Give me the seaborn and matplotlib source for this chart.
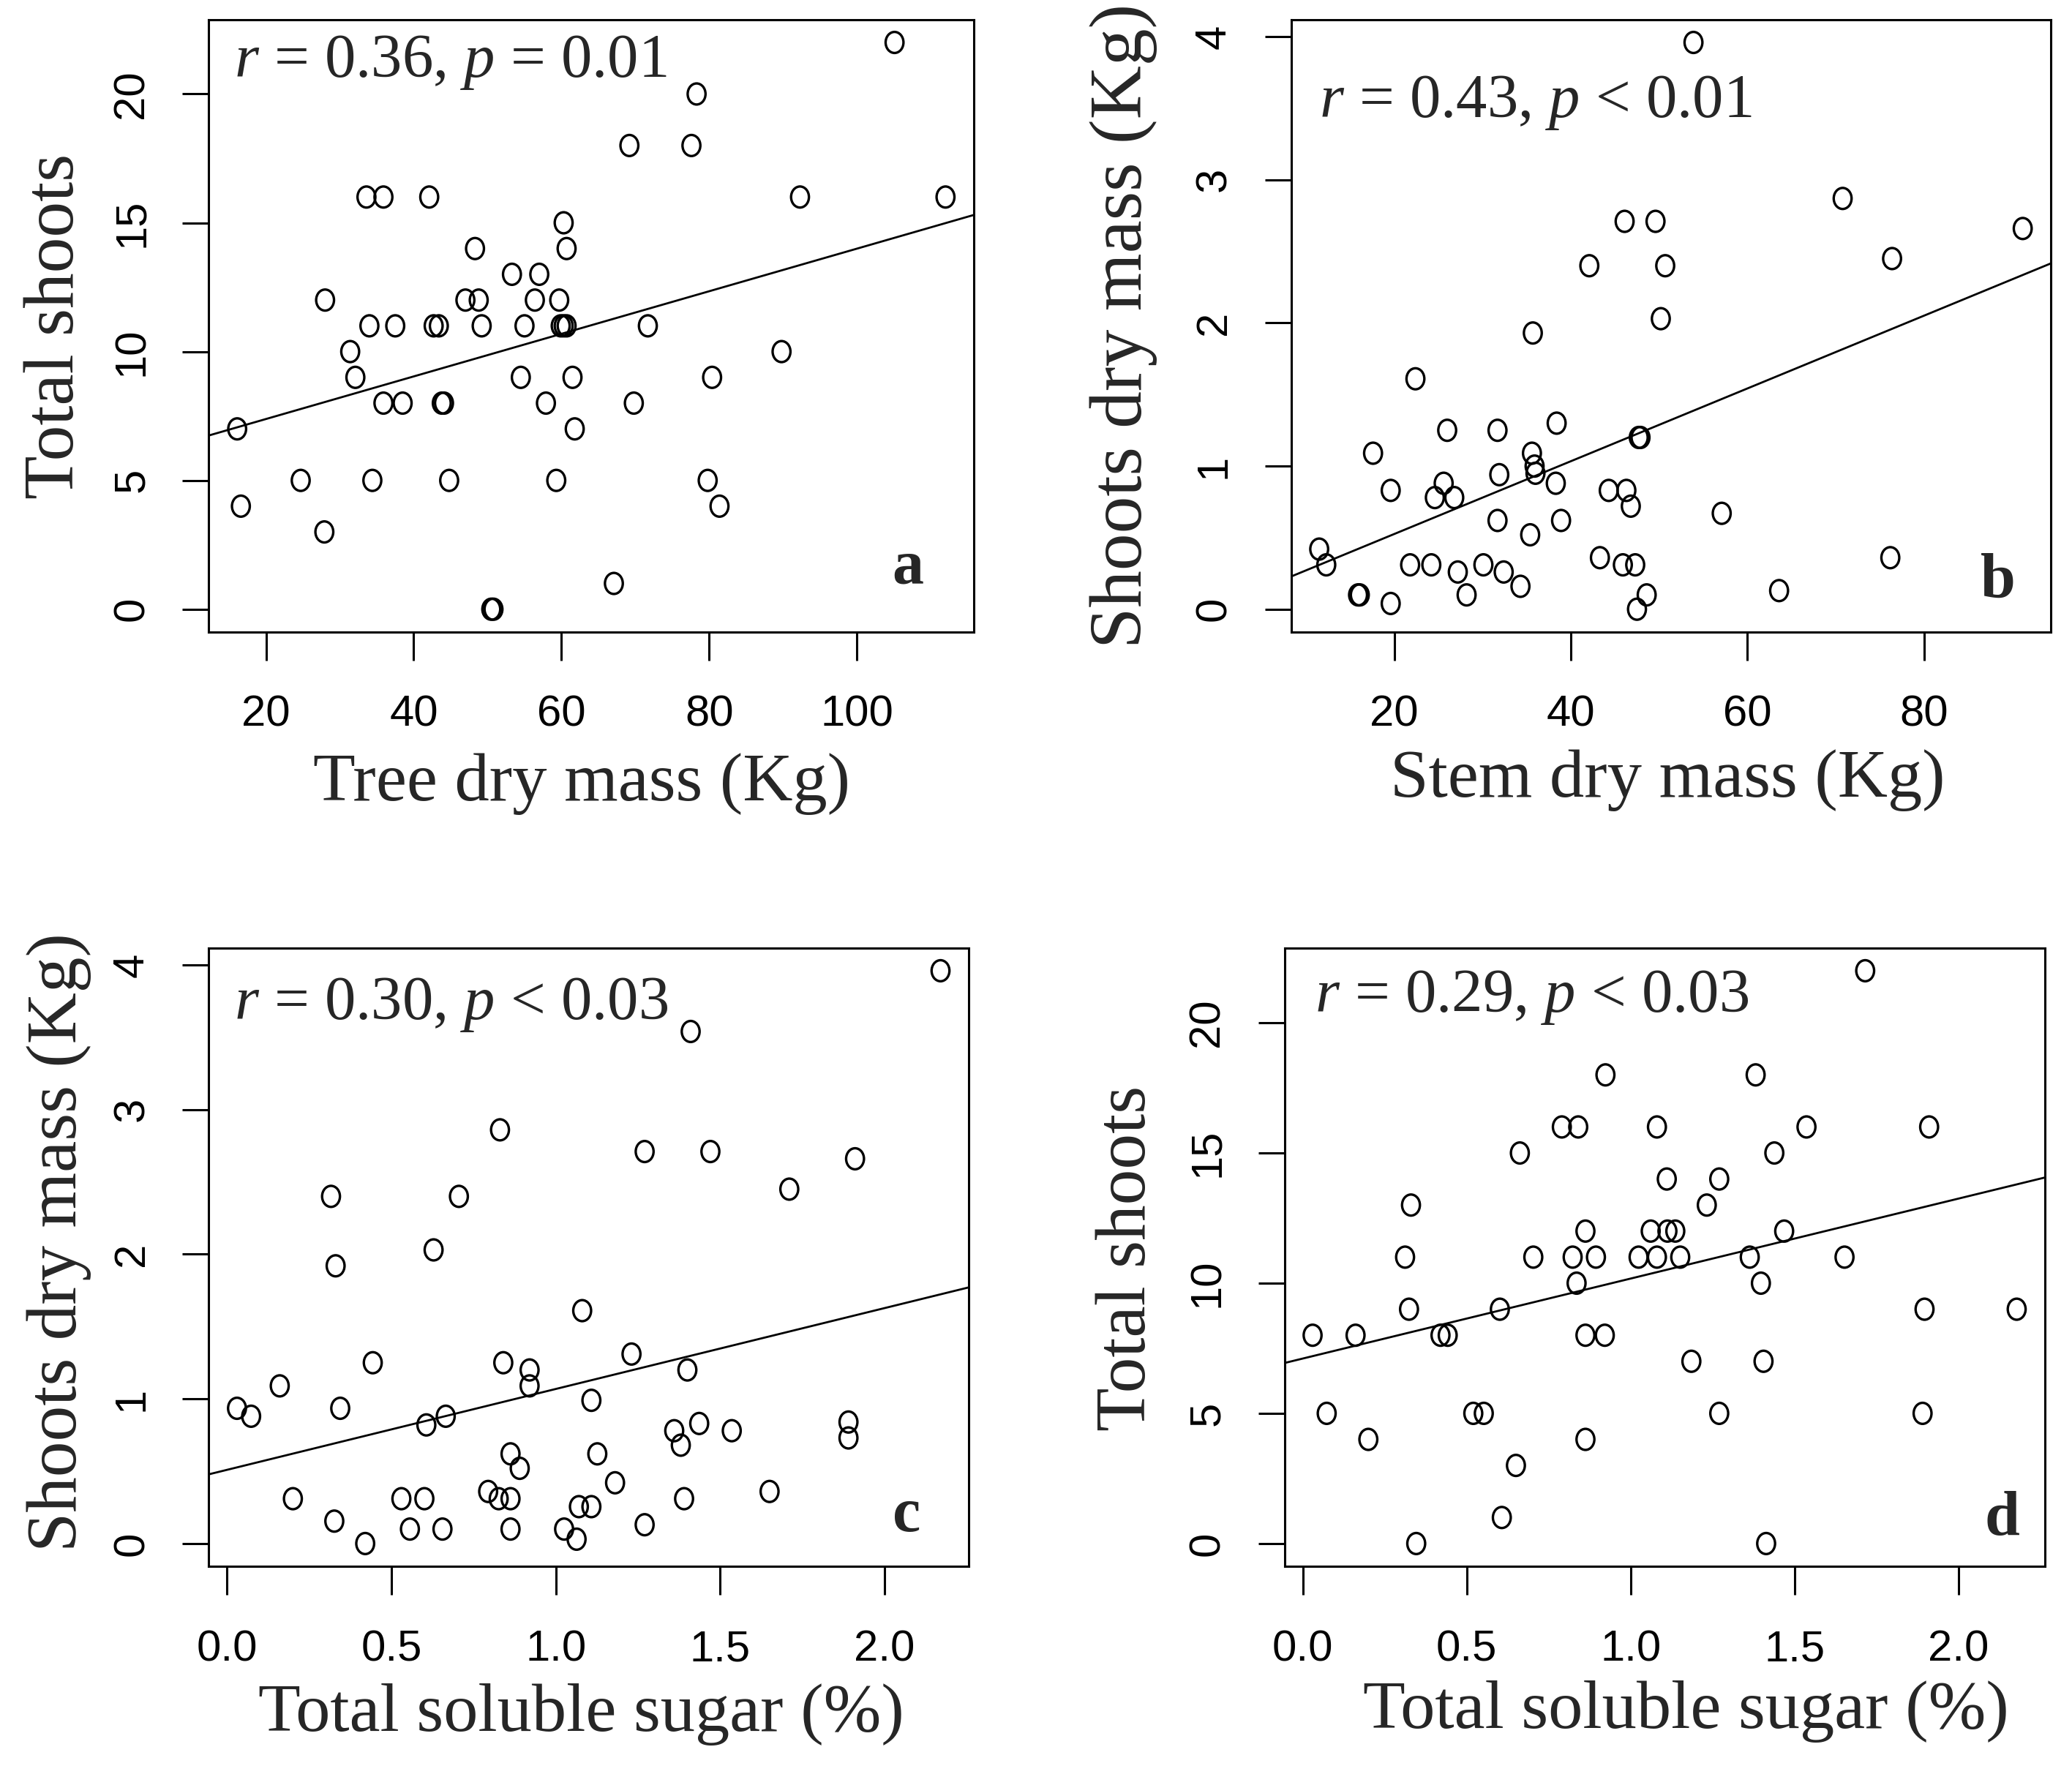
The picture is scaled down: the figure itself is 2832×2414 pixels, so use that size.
import numpy as np
import seaborn as sns
import matplotlib.pyplot as plt
from matplotlib.path import Path

# ---- data ----
# a: tree dry mass (Kg) vs total shoots
tree_mass = [16.1, 16.6, 24.7, 27.9, 28.0, 31.4, 32.1, 33.6, 35.9, 34.0, 37.5, 34.4,
             35.9, 38.5, 42.1, 42.7, 43.4, 43.8, 44.1, 44.8, 48.3, 47.0, 48.8, 49.2,
             53.3, 57.0, 55.0, 54.5, 56.4, 57.9, 50.5, 50.8, 59.7, 60.3, 60.7, 59.9,
             60.3, 60.7, 59.3, 61.5, 61.8, 67.1, 69.2, 69.8, 71.7, 77.6, 78.3, 79.8,
             80.4, 81.4, 89.8, 92.3, 105.1, 112.0]
tree_shoots = [7, 4, 5, 3, 12, 10, 9, 16, 16, 11, 11, 5,
               8, 8, 16, 11, 11, 8, 8, 5, 14, 12, 12, 11,
               13, 13, 11, 9, 12, 8, 0, 0, 12, 15, 14, 11,
               11, 11, 5, 9, 7, 1, 18, 8, 11, 18, 20, 5,
               9, 4, 10, 16, 22, 16]

# b: stem dry mass (Kg) vs shoots dry mass (Kg)
stem_mass = [53.9, 70.8, 91.2, 76.4, 46.1, 49.6, 42.1, 50.7, 50.2, 35.7, 22.4, 38.4,
             26.0, 31.7, 47.7, 47.9, 17.6, 35.6, 35.9, 36.0, 31.9, 25.6, 38.3, 19.6,
             44.3, 46.3, 24.6, 26.8, 46.8, 57.1, 31.7, 38.9, 35.4, 11.5, 12.3, 21.8,
             24.2, 30.1, 27.2, 32.4, 43.3, 45.9, 47.3, 76.2, 34.3, 15.9, 16.1, 28.2,
             48.6, 63.6, 19.6, 47.5]
stem_shoot_mass = [3.96, 2.87, 2.66, 2.45, 2.71, 2.71, 2.40, 2.40, 2.03, 1.93, 1.61, 1.30,
                   1.25, 1.25, 1.20, 1.20, 1.09, 1.09, 1.00, 0.95, 0.94, 0.88, 0.88, 0.83,
                   0.83, 0.83, 0.78, 0.78, 0.72, 0.67, 0.62, 0.62, 0.52, 0.42, 0.31, 0.31,
                   0.31, 0.31, 0.26, 0.26, 0.36, 0.31, 0.31, 0.36, 0.16, 0.10, 0.10, 0.10,
                   0.10, 0.13, 0.04, 0.00]

# c: total soluble sugar (%) vs shoots dry mass (Kg)
sugar_c = [2.17, 1.41, 0.83, 1.27, 1.47, 1.91, 1.71, 0.316, 0.705, 0.628, 0.33, 1.08,
           1.23, 0.443, 0.84, 0.92, 1.40, 0.16, 0.92, 1.108, 0.03, 0.344, 0.073, 0.665,
           0.606, 1.436, 1.89, 1.89, 1.36, 1.535, 1.38, 0.862, 1.126, 0.89, 1.18, 1.65,
           0.794, 0.20, 0.53, 0.60, 0.826, 0.862, 1.39, 1.07, 1.108, 0.326, 1.27, 0.556,
           0.655, 0.862, 1.025, 1.063, 0.42]
shoot_mass_c = [3.96, 3.54, 2.86, 2.71, 2.71, 2.66, 2.45, 2.40, 2.40, 2.03, 1.92, 1.61,
                1.31, 1.25, 1.25, 1.20, 1.20, 1.09, 1.09, 0.99, 0.935, 0.935, 0.88, 0.88,
                0.82, 0.83, 0.84, 0.73, 0.78, 0.78, 0.68, 0.62, 0.62, 0.52, 0.42, 0.36,
                0.36, 0.31, 0.31, 0.31, 0.31, 0.31, 0.31, 0.255, 0.255, 0.155, 0.13, 0.10,
                0.10, 0.10, 0.10, 0.03, 0.00]

# d: total soluble sugar (%) vs total shoots
sugar_d = [1.715, 0.923, 1.381, 0.79, 0.84, 1.08, 1.536, 1.91, 0.662, 1.438, 1.11, 1.27,
           0.33, 1.232, 0.862, 1.061, 1.112, 1.136, 1.468, 0.312, 0.703, 0.823, 0.894, 1.024,
           1.08, 1.151, 1.363, 1.652, 0.835, 1.397, 0.324, 0.601, 1.896, 2.177, 0.03, 0.161,
           0.42, 0.442, 0.862, 0.921, 1.185, 1.405, 0.073, 0.52, 0.552, 1.27, 1.89, 0.20,
           0.862, 0.65, 0.607, 0.346, 1.413]
shoots_d = [22, 18, 18, 16, 16, 16, 16, 16, 15, 15, 14, 14,
            13, 13, 12, 12, 12, 12, 12, 11, 11, 11, 11, 11,
            11, 11, 11, 11, 10, 10, 9, 9, 9, 9, 8, 8,
            8, 8, 8, 8, 7, 7, 5, 5, 5, 5, 5, 4,
            4, 3, 1, 0, 0]

panels = [
    dict(x=tree_mass, y=tree_shoots, xlab='Tree dry mass (Kg)', ylab='Total shoots',
         stat=r'$r$ = 0.36, $p$ = 0.01', letter='a',
         xticks=[20, 40, 60, 80, 100], yticks=[0, 5, 10, 15, 20]),
    dict(x=stem_mass, y=stem_shoot_mass, xlab='Stem dry mass (Kg)', ylab='Shoots dry mass (Kg)',
         stat=r'$r$ = 0.43, $p$ < 0.01', letter='b',
         xticks=[20, 40, 60, 80], yticks=[0, 1, 2, 3, 4]),
    dict(x=sugar_c, y=shoot_mass_c, xlab='Total soluble sugar (%)', ylab='Shoots dry mass (Kg)',
         stat=r'$r$ = 0.30, $p$ < 0.03', letter='c',
         xticks=[0.0, 0.5, 1.0, 1.5, 2.0], yticks=[0, 1, 2, 3, 4]),
    dict(x=sugar_d, y=shoots_d, xlab='Total soluble sugar (%)', ylab='Total shoots',
         stat=r'$r$ = 0.29, $p$ < 0.03', letter='d',
         xticks=[0.0, 0.5, 1.0, 1.5, 2.0], yticks=[0, 5, 10, 15, 20]),
]

# axes boxes and text placement (figure / axes fractions)
boxes = [[0.1008, 0.6422, 0.3692, 0.3466],
         [0.6231, 0.6422, 0.3667, 0.3466],
         [0.1008, 0.1130, 0.3667, 0.3503],
         [0.6199, 0.1130, 0.3670, 0.3503]]
xlab_pos = [(0.487, -0.248), (0.496, -0.242), (0.49, -0.239), (0.528, -0.235)]
ylab_pos = [(-0.20, 0.499), (-0.22, 0.50), (-0.197, 0.524), (-0.206, 0.498)]
ylab_size = [70, 73, 70, 70]
stat_pos = [(0.033, 0.93), (0.037, 0.864), (0.033, 0.908), (0.04, 0.92)]
letter_pos = [(0.914, 0.104), (0.93, 0.082), (0.918, 0.081), (0.944, 0.075)]

sns.set_style('ticks')
plt.rcParams['font.family'] = ['Liberation Serif', 'DejaVu Serif']
plt.rcParams['mathtext.fontset'] = 'custom'
plt.rcParams['mathtext.rm'] = 'Liberation Serif'
plt.rcParams['mathtext.it'] = 'Liberation Serif:italic'


def r_limits(v):
    lo, hi = min(v), max(v)
    pad = 0.04 * (hi - lo)
    return lo - pad, hi + pad


# slightly tall open circle, like the reference
circ = Path.unit_circle()
oval = Path(circ.vertices * [1.0, 1.18], circ.codes)

fig = plt.figure(figsize=(28.32, 24.14), dpi=100)

for i, p in enumerate(panels):
    ax = fig.add_axes(boxes[i])
    ax.set_xlim(r_limits(p['x']))
    ax.set_ylim(r_limits(p['y']))
    sns.regplot(x=np.array(p['x']), y=np.array(p['y']), ax=ax, ci=None, truncate=False,
                color='black', marker=oval,
                scatter_kws=dict(s=430, facecolors='none', edgecolors='black',
                                 linewidths=2.4, alpha=1),
                line_kws=dict(lw=2.0))
    ax.set_xlim(r_limits(p['x']))
    ax.set_ylim(r_limits(p['y']))

    ax.set_xticks(p['xticks'])
    ax.set_yticks(p['yticks'])
    if isinstance(p['xticks'][0], float):
        ax.set_xticklabels([f'{t:.1f}' for t in p['xticks']])
    ax.tick_params(axis='both', direction='out', color='black', labelcolor='black',
                   labelsize=43, labelfontfamily='Liberation Sans', width=2.2)
    ax.tick_params(axis='x', length=28, pad=34)
    ax.tick_params(axis='y', length=26, pad=30)
    for lab in ax.get_yticklabels():
        lab.set_rotation(90)
        lab.set_va('center')

    for sp in ax.spines.values():
        sp.set_visible(True)
        sp.set_linewidth(2.2)
        sp.set_color('black')

    ax.set_xlabel(p['xlab'], fontsize=68, va='center')
    ax.set_ylabel(p['ylab'], fontsize=ylab_size[i], va='center')
    ax.xaxis.set_label_coords(*xlab_pos[i])
    ax.yaxis.set_label_coords(*ylab_pos[i])

    ax.text(stat_pos[i][0], stat_pos[i][1], p['stat'], transform=ax.transAxes,
            fontsize=61, ha='left', va='center')
    ax.text(letter_pos[i][0], letter_pos[i][1], p['letter'], transform=ax.transAxes,
            fontsize=62, fontweight='bold', ha='center', va='center')

fig.savefig('out.png', dpi=100, facecolor='white')
